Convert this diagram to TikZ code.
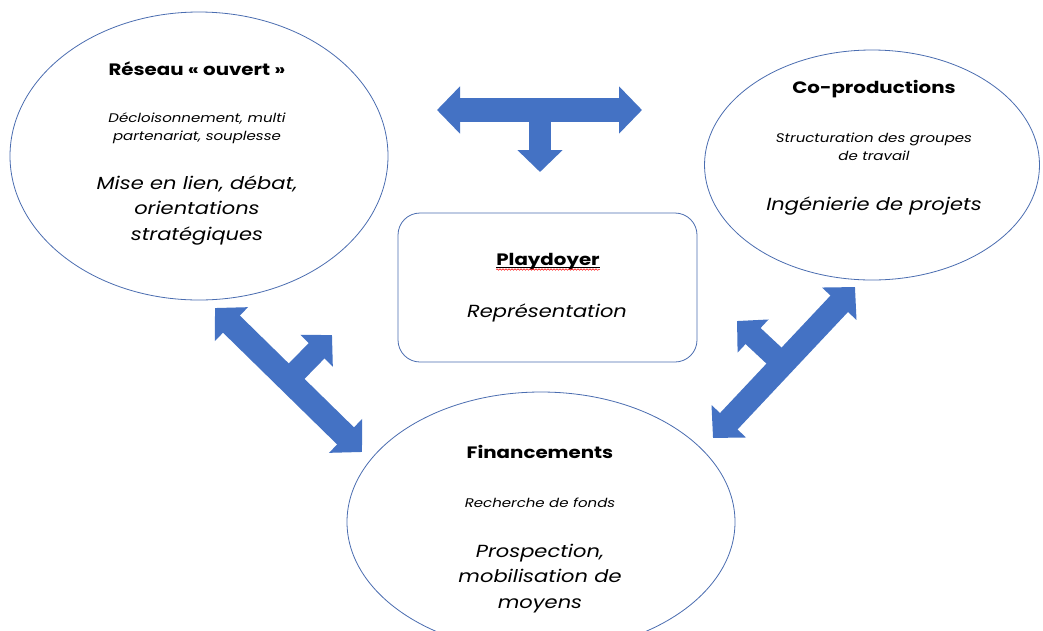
\documentclass[tikz,border=0pt]{standalone}
\usepackage{fontspec}
\setmainfont{Poppins}[FakeStretch=1.2]
\usetikzlibrary{arrows.meta,shapes.geometric,decorations.pathmorphing}
\definecolor{obl}{HTML}{4472C4}
\definecolor{oline}{HTML}{4A6DB0}
\begin{document}
\begin{tikzpicture}[x=1pt,y=-1pt,
  oval/.style={draw=oline, line width=0.8pt, ellipse, inner sep=0pt},
  ttl/.style={font=\bfseries\fontsize{16.5}{20}\selectfont, anchor=base, inner sep=0pt},
  sub/.style={font=\itshape\fontsize{12.5}{18}\selectfont, anchor=base, inner sep=0pt, align=center},
  big/.style={font=\itshape\fontsize{17.5}{25.5}\selectfont, anchor=base, inner sep=0pt, align=center},
  dbl/.style={draw=obl, line width=24pt, {Triangle[width=46pt,length=23pt]}-{Triangle[width=46pt,length=23pt]}},
  sgl/.style={draw=obl, line width=22pt, -{Triangle[width=44pt,length=22pt]}}
]
\useasboundingbox (0,0) rectangle (1043,630);
\fill[white] (0,0) rectangle (1043,630);

% shapes
\node[oval, minimum width=378pt, minimum height=288pt] (res) at (199,156) {};
\node[oval, minimum width=335pt, minimum height=230pt] (cop) at (872,165) {};
\node[oval, minimum width=388pt, minimum height=260pt] (fin) at (541,522) {};
\node[draw=oline, line width=0.8pt, rounded corners=22pt, minimum width=299pt, minimum height=149pt, inner sep=0pt] (pla) at (547.5,287.5) {};

% left ellipse text (multi-line nodes: base = last line)
\node[ttl] (t1) at (197,75) {Réseau « ouvert »};
\node[sub] (s1) at (197,140) {Décloisonnement, multi\\partenariat, souplesse};
\node[big] (b1) at (197,240) {Mise en lien, débat,\\orientations\\stratégiques};

% right ellipse text
\node[ttl] (t2) at (874,93) {Co-productions};
\node[sub] (s2) at (874,160) {Structuration des groupes\\de travail};
\node[big] (b2) at (874,210) {Ingénierie de projets};

% bottom ellipse text
\node[ttl] (t3) at (540,458) {Financements};
\node[sub] (s3) at (540,507) {Recherche de fonds};
\node[big] (b3) at (540,608) {Prospection,\\mobilisation de\\moyens};

% centre box text
\node[ttl] (t4) at (548,265) {Playdoyer};
\draw[line width=1.1pt] ([yshift=-2.5pt]t4.base west) -- ([yshift=-2.5pt]t4.base east);
\draw[red, line width=0.5pt, decorate, decoration={snake, amplitude=0.8pt, segment length=3pt}] ([yshift=-4.5pt]t4.base west) -- ([yshift=-4.5pt]t4.base east);
\node[big] (b4) at (547,317) {Représentation};

% arrows
\coordinate (ta) at (437,110);
\coordinate (tb) at (642,110);
\coordinate (tm) at (540,110);
\coordinate (tc) at (540,172);
\draw[sgl] (tm) -- (tc);
\draw[dbl] (ta) -- (tb);

\coordinate (la) at (215,308);
\coordinate (lb) at (362,452);
\coordinate (lm) at (288,380);
\coordinate (lc) at (332,335);
\draw[sgl] (lm) -- (lc);
\draw[dbl] (la) -- (lb);

\coordinate (ra) at (713,438);
\coordinate (rb) at (855,287);
\coordinate (rm) at (783,364);
\coordinate (rc) at (737,321);
\draw[sgl] (rm) -- (rc);
\draw[dbl] (ra) -- (rb);
\end{tikzpicture}
\end{document}
